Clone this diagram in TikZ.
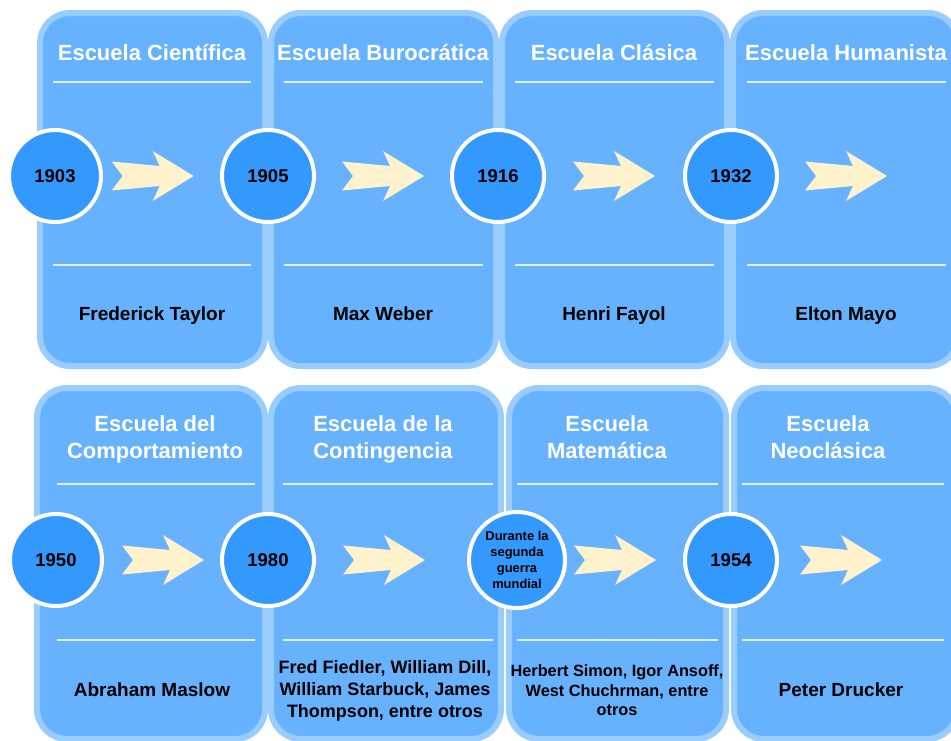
\documentclass[tikz,border=0pt]{standalone}
\usepackage{fontspec}
\setmainfont{Liberation Sans}
\definecolor{panelfill}{HTML}{66B2FF}
\definecolor{panelline}{HTML}{99CCFF}
\definecolor{yearfill}{HTML}{3399FF}
\definecolor{arrowfill}{HTML}{FFF2CC}
\definecolor{sepline}{HTML}{E2F0FF}
\tikzset{
  panel/.style={fill=panelfill, draw=panelline, line width=6pt, rounded corners=30pt},
  sep/.style={draw=sepline, line width=2pt},
  year/.style={circle, fill=yearfill, draw=white, line width=4pt, minimum size=92pt, inner sep=0pt,
    font=\bfseries\fontsize{18.5}{22}\selectfont, text=black, align=center},
  struts/.style={execute at begin node=\strut, execute at end node=\strut},
  title/.style={struts, font=\bfseries\fontsize{22}{27}\selectfont, text=white, align=center, inner sep=0pt},
  person/.style={struts, font=\bfseries\fontsize{19}{22}\selectfont, text=black, align=center, inner sep=0pt},
  fatarrow/.pic={\fill[arrowfill] (0,-14.5) -- (48,-10) -- (41,-25) -- (82,0) -- (41,25)
    -- (48,10) -- (0,14.5) -- (11,0) -- cycle;}
}
\begin{document}
\begin{tikzpicture}[x=1pt, y=-1pt]
\useasboundingbox (0,0) rectangle (951,740);
\clip (0,0) rectangle (951,740);

% ---- upper row of schools
\draw[panel] (40,13) rectangle (265,366);
\draw[panel] (271,13) rectangle (496,366);
\draw[panel] (502,13) rectangle (727,366);
\draw[panel] (733,13) rectangle (958,366);

\foreach \a/\b in {53/251, 284/483, 515/714, 747/946}{
  \draw[sep] (\a,82) -- (\b,82);
  \draw[sep] (\a,265) -- (\b,265);
}

\node[title] (t1) at (152,55.5) {Escuela Científica};
\node[title] (t2) at (383,55.5) {Escuela Burocrática};
\node[title] (t3) at (614,55.5) {Escuela Clásica};
\node[title] (t4) at (846,55.5) {Escuela Humanista};

\pic at (111.7,176) {fatarrow};
\pic at (342,176) {fatarrow};
\pic at (573,176) {fatarrow};
\pic at (805,176) {fatarrow};

\node[year] (y1) at (55,176) {1903};
\node[year] (y2) at (268,176) {1905};
\node[year] (y3) at (498,176) {1916};
\node[year] (y4) at (731,176) {1932};

\node[person] (n1) at (152,316.5) {Frederick Taylor};
\node[person] (n2) at (383,316.5) {Max Weber};
\node[person] (n3) at (614,316.5) {Henri Fayol};
\node[person] (n4) at (846,316.5) {Elton Mayo};

% ---- lower row of schools
\draw[panel] (37,388) rectangle (265,739);
\draw[panel] (271,388) rectangle (501,739);
\draw[panel] (509,388) rectangle (726,739);
\draw[panel] (734,388) rectangle (957,739);

\foreach \a/\b in {57/255, 283/493, 517/718, 742/944}{
  \draw[sep] (\a,484) -- (\b,484);
  \draw[sep] (\a,640) -- (\b,640);
}

\node[title] (t5) at (155,441) {Escuela del\\Comportamiento};
\node[title] (t6) at (383,441) {Escuela de la\\Contingencia};
\node[title] (t7) at (607,441) {Escuela\\Matemática};
\node[title] (t8) at (828,441) {Escuela\\Neoclásica};

\pic at (122,560) {fatarrow};
\pic at (343,560) {fatarrow};
\pic at (574,560) {fatarrow};
\pic at (800,560) {fatarrow};

\node[year] (y5) at (56,560) {1950};
\node[year] (y6) at (268,560) {1980};
\node[year, minimum size=96pt, font=\bfseries\fontsize{12.9}{16}\selectfont] (y7) at (517,560)
  {Durante la\\segunda\\guerra\\mundial};
\node[year] (y8) at (731,560) {1954};

\node[person] (n5) at (152,692.5) {Abraham Maslow};
\node[person, font=\bfseries\fontsize{18}{22}\selectfont] (n6) at (385,692.4)
  {Fred Fiedler, William Dill,\\William Starbuck, James\\Thompson, entre otros};
\node[person, font=\bfseries\fontsize{16.3}{19.5}\selectfont] (n7) at (617,693.5)
  {Herbert Simon, Igor Ansoff,\\West Chuchrman, entre\\otros};
\node[person] (n8) at (841,692.5) {Peter Drucker};
\end{tikzpicture}
\end{document}
